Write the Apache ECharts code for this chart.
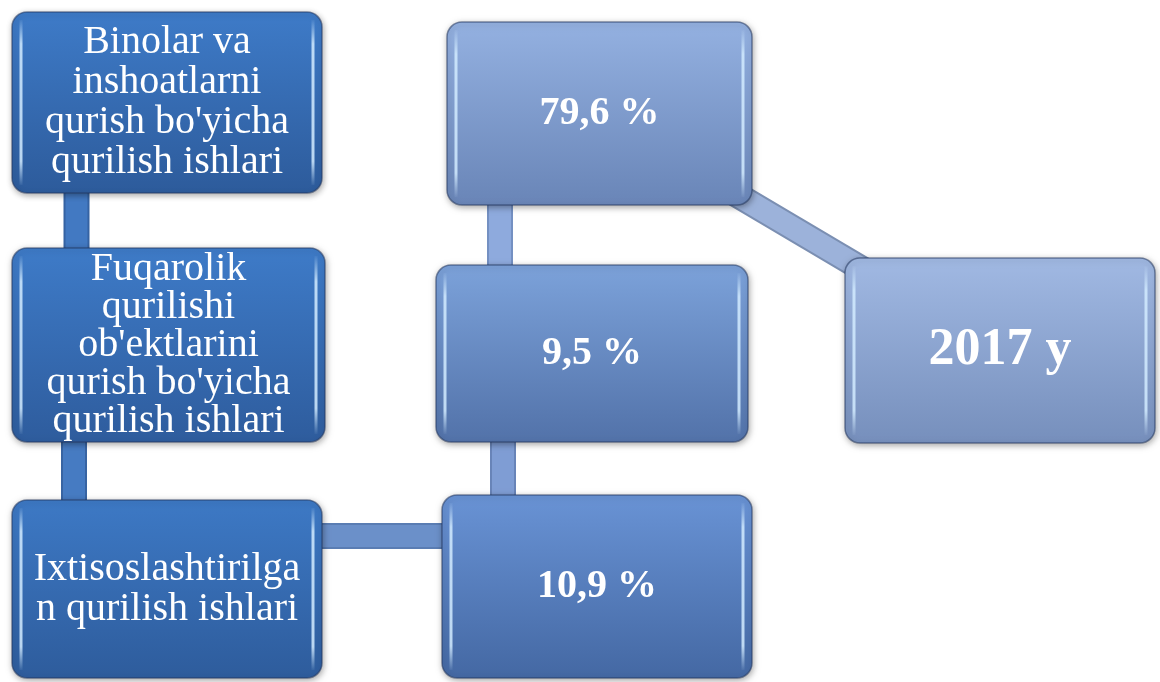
<!DOCTYPE html>
<html>
<head>
<meta charset="utf-8">
<script src="https://cdn.jsdelivr.net/npm/echarts@6/dist/echarts.min.js"></script>
<style>
  html, body { margin: 0; padding: 0; background: #fff; }
  #chart { width: 1160px; height: 682px; }
</style>
</head>
<body>
<div id="chart"></div>
<script>
// bloklar matni
var nodeLabels = [
  "Binolar va\ninshoatlarni\nqurish bo'yicha\nqurilish ishlari",
  "Fuqarolik\nqurilishi\nob'ektlarini\nqurish bo'yicha\nqurilish ishlari",
  "Ixtisoslashtirilga\nn qurilish ishlari",
  "79,6 %",
  "9,5 %",
  "10,9 %",
  "2017 y"
];
// qaysi ustun / qator (katak indekslari)
var colCats = ['c1', 'c2', 'c3'];
var rowCats = ['r1', 'r2', 'r3'];
var nodeCol = [0, 0, 0, 1, 1, 1, 2];
var nodeRow = [0, 1, 2, 0, 1, 2, 1];
// ulanishlar
var links = [[0, 1], [1, 2], [2, 5], [5, 4], [4, 3], [3, 6]];

// --- ko'rinish (style) ---
var serif = '"Times New Roman", "Liberation Serif", serif';
var boxStyle = [
  {dx: 0,    dy: 0,     w: 310, h: 181, top: '#3e7bc8', bottom: '#2d5b9b', size: 40, lh: 40, bold: false},
  {dx: 1.5,  dy: -0.75, w: 313, h: 194, top: '#3e7bc8', bottom: '#2e5c9d', size: 40, lh: 38, bold: false},
  {dx: 0,    dy: 0,     w: 310, h: 178, top: '#3d79c5', bottom: '#2e5c9c', size: 40, lh: 40, bold: false},
  {dx: 16,   dy: 11,    w: 305, h: 183, top: '#94b1e1', bottom: '#6985b7', size: 40, lh: 44, bold: true},
  {dx: 8.5,  dy: 7.75,  w: 312, h: 177, top: '#7ca2da', bottom: '#5272a9', size: 40, lh: 44, bold: true},
  {dx: 13.5, dy: -2.5,  w: 310, h: 183, top: '#6993d5', bottom: '#4468a3', size: 40, lh: 44, bold: true},
  {dx: 0,    dy: 4.75,  w: 310, h: 185, top: '#a1b9e3', bottom: '#768fbc', size: 52, lh: 56, bold: true}
];
var linkStyle = [
  {a: [-90.5, 0], b: [-90.5, 0], fill: '#4279c2', edge: '#3563a3'},
  {a: [-93, 0],   b: [-93, 0],   fill: '#467bc2', edge: '#3864a2'},
  {a: [0, -53],   b: [0, -53],   fill: '#6b90c9', edge: '#5a7db3'},
  {a: [-80.5, 0], b: [-80.5, 0], fill: '#7f9dd4', edge: '#6884b8'},
  {a: [-83.5, 0], b: [-83.5, 0], fill: '#8eaadd', edge: '#7490c2'},
  {a: [16, 11],   b: [0, 4.75],  fill: '#9cb2da', edge: '#7b8fb2'}
];

var nodeData = nodeLabels.map(function (t, i) {
  return [nodeCol[i], nodeRow[i], i];
});
var linkData = links.map(function (l, k) {
  return [nodeCol[l[0]], nodeRow[l[0]], nodeCol[l[1]], nodeRow[l[1]], k];
});

var myChart = echarts.init(document.getElementById('chart'));

function renderLink(params, api) {
  var s = linkStyle[api.value(4)];
  var p1 = api.coord([api.value(0), api.value(1)]);
  var p2 = api.coord([api.value(2), api.value(3)]);
  var pts = [[p1[0] + s.a[0], p1[1] + s.a[1]], [p2[0] + s.b[0], p2[1] + s.b[1]]];
  return {
    type: 'group',
    children: [
      {type: 'polyline', shape: {points: pts}, style: {stroke: s.edge, lineWidth: 26, fill: null, lineCap: 'butt'}},
      {type: 'polyline', shape: {points: pts}, style: {stroke: s.fill, lineWidth: 22, fill: null, lineCap: 'butt'}}
    ]
  };
}

function glossLine(x, y1, y2) {
  return {
    type: 'line',
    shape: {x1: x, y1: y1, x2: x, y2: y2},
    style: {
      lineWidth: 3,
      stroke: new echarts.graphic.LinearGradient(0, 0, 0, 1, [
        {offset: 0, color: 'rgba(210,235,255,0)'},
        {offset: 0.15, color: 'rgba(210,235,255,0.85)'},
        {offset: 0.85, color: 'rgba(210,235,255,0.85)'},
        {offset: 1, color: 'rgba(210,235,255,0)'}
      ])
    }
  };
}

function renderBox(params, api) {
  var i = api.value(2);
  var s = boxStyle[i];
  var c = api.coord([api.value(0), api.value(1)]);
  var cx = c[0] + s.dx, cy = c[1] + s.dy;
  var x = cx - s.w / 2, y = cy - s.h / 2;
  return {
    type: 'group',
    children: [
      {
        type: 'rect',
        shape: {x: x, y: y, width: s.w, height: s.h, r: 15},
        style: {
          fill: new echarts.graphic.LinearGradient(0, 0, 0, 1, [
            {offset: 0, color: s.top},
            {offset: 1, color: s.bottom}
          ]),
          stroke: 'rgba(35,55,95,0.55)',
          lineWidth: 1.5,
          shadowBlur: 6,
          shadowOffsetX: 1,
          shadowOffsetY: 2,
          shadowColor: 'rgba(0,0,0,0.35)'
        }
      },
      // yaltiroq chekkalar
      glossLine(x + 9, y + 8, y + s.h - 8),
      glossLine(x + s.w - 9, y + 8, y + s.h - 8),
      {
        type: 'text',
        x: cx,
        y: cy,
        style: {
          text: nodeLabels[i],
          fill: '#fff',
          fontFamily: serif,
          fontSize: s.size,
          fontWeight: s.bold ? 'bold' : 'normal',
          lineHeight: s.lh,
          align: 'center',
          verticalAlign: 'middle'
        }
      }
    ]
  };
}

myChart.setOption({
  backgroundColor: '#fff',
  animation: false,
  tooltip: {show: false},
  grid: {left: 167, right: 160, top: 102.5, bottom: 93},
  xAxis: {type: 'category', data: colCats, boundaryGap: false, show: false},
  yAxis: {type: 'category', data: rowCats, boundaryGap: false, inverse: true, show: false},
  series: [
    {type: 'custom', renderItem: renderLink, data: linkData, clip: false, z: 1,
      encode: {x: [0, 2], y: [1, 3]}},
    {type: 'custom', renderItem: renderBox, data: nodeData, clip: false, z: 2,
      encode: {x: 0, y: 1}}
  ]
});
</script>
</body>
</html>
